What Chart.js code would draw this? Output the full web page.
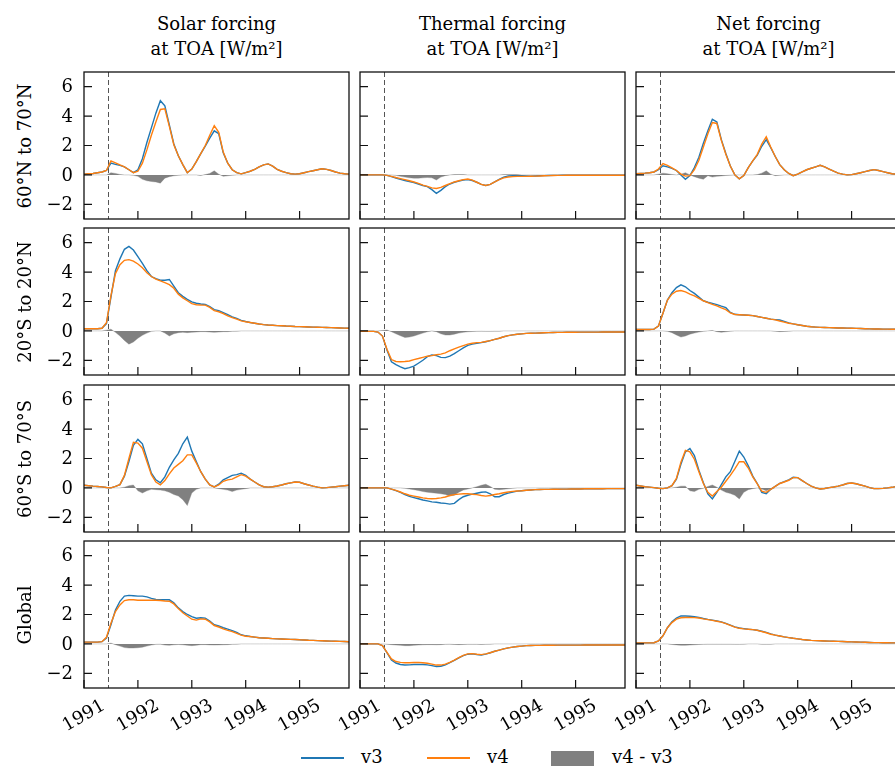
<!DOCTYPE html>
<html><head><meta charset="utf-8">
<script src="https://cdn.jsdelivr.net/npm/chart.js@4.4.1/dist/chart.umd.min.js"></script>
<style>
html,body{margin:0;padding:0;background:#fff;overflow:hidden;width:895px;height:768px;}
body{position:relative;font-family:"DejaVu Serif",serif;color:#000;}
canvas{position:absolute;}
.title{position:absolute;text-align:center;font-size:18px;line-height:25px;width:320px;top:11px;white-space:nowrap;}
.rowlab{position:absolute;font-size:18px;white-space:nowrap;transform:translate(-50%,-50%) rotate(-90deg);}
.lg{position:absolute;}
.lgt{position:absolute;font-size:18px;line-height:20px;top:747px;}
</style></head>
<body>
<script>
const X_START = 1991;
const X_TICKS = [1991, 1992, 1993, 1994, 1995];
const Y_TICKS = [-2, 0, 2, 4, 6];
const Y_MIN = -3, Y_MAX = 7;
const ERUPTION = 1991.45;
const COLUMN_TITLES = [["Solar forcing","at TOA [W/m²]"],["Thermal forcing","at TOA [W/m²]"],["Net forcing","at TOA [W/m²]"]];
const ROW_LABELS = ["60°N to 70°N","20°S to 20°N","60°S to 70°S","Global"];
const SERIES_NAMES = ["v3","v4","v4 - v3"];

const SOLAR_60N_V3=[0.05,0.08,0.1,0.15,0.2,0.3,0.8,0.72,0.65,0.55,0.35,0.15,0.35,1.1,2.2,3.2,4.2,5.05,4.7,3.4,2.1,1.3,0.7,0.15,0.4,0.9,1.45,1.95,2.5,3.0,2.8,1.5,0.8,0.35,0.15,0.07,0.15,0.25,0.38,0.55,0.68,0.75,0.6,0.38,0.25,0.15,0.08,0.05,0.08,0.15,0.22,0.28,0.35,0.42,0.38,0.3,0.2,0.12,0.08,0.05];
const SOLAR_60N_V4=[0.05,0.08,0.1,0.15,0.2,0.3,0.95,0.82,0.68,0.55,0.35,0.15,0.25,0.8,1.7,2.7,3.6,4.45,4.5,3.3,2.05,1.3,0.7,0.15,0.4,0.9,1.45,2.0,2.7,3.35,2.9,1.55,0.8,0.35,0.15,0.07,0.15,0.25,0.38,0.55,0.68,0.75,0.6,0.38,0.25,0.15,0.08,0.05,0.08,0.15,0.22,0.28,0.35,0.42,0.38,0.3,0.2,0.12,0.08,0.05];
const SOLAR_60N_DIFF=[0,0,0,0,0,0,0.15,0.1,0.03,0,0,-0.03,-0.1,-0.3,-0.4,-0.45,-0.48,-0.56,-0.22,-0.12,-0.06,-0.03,0,0,0,0,-0.04,0.02,0.1,0.28,0.05,-0.1,-0.06,-0.02,0,0,0,0,0,0,0,0,0,0,0,0,0,0,0,0,0,0,0,0,0,0,0,0,0,0];

const SOLAR_EQ_V3=[0.15,0.15,0.15,0.15,0.18,0.5,2.3,4.1,4.9,5.55,5.75,5.5,5.05,4.6,4.1,3.7,3.55,3.45,3.45,3.5,3.05,2.6,2.35,2.15,1.98,1.88,1.83,1.8,1.65,1.45,1.38,1.25,1.1,0.95,0.85,0.72,0.64,0.57,0.52,0.47,0.43,0.4,0.38,0.36,0.35,0.33,0.32,0.3,0.29,0.28,0.27,0.26,0.25,0.24,0.23,0.22,0.21,0.2,0.19,0.18];
const SOLAR_EQ_V4=[0.15,0.15,0.15,0.15,0.18,0.55,2.4,3.9,4.5,4.8,4.85,4.75,4.55,4.3,3.95,3.7,3.52,3.4,3.28,3.15,2.9,2.5,2.25,2.05,1.85,1.78,1.76,1.75,1.6,1.38,1.3,1.18,1.02,0.9,0.8,0.68,0.62,0.57,0.52,0.47,0.43,0.4,0.38,0.36,0.35,0.33,0.32,0.3,0.29,0.28,0.27,0.26,0.25,0.24,0.23,0.22,0.21,0.2,0.19,0.18];
const SOLAR_EQ_DIFF=[0,0,0,0,0,0.05,0.12,-0.1,-0.35,-0.65,-0.9,-0.75,-0.5,-0.3,-0.15,-0.03,0,0,-0.15,-0.35,-0.2,-0.12,-0.1,-0.12,-0.1,-0.08,-0.05,-0.05,-0.08,-0.1,-0.08,-0.05,-0.05,-0.03,-0.02,0,0,0,0,0,0,0,0,0,0,0,0,0,0,0,0,0,0,0,0,0,0,0,0,0];

const SOLAR_60S_V3=[0.18,0.15,0.12,0.1,0.07,0.03,0.0,0.1,0.22,0.8,1.8,2.9,3.3,3.0,2.0,1.0,0.55,0.35,0.75,1.4,1.9,2.35,3.0,3.45,2.5,1.8,1.1,0.6,0.2,0.07,0.25,0.55,0.7,0.85,0.9,1.0,0.85,0.6,0.4,0.2,0.08,0.05,0.08,0.13,0.2,0.28,0.34,0.4,0.38,0.28,0.2,0.12,0.05,0.0,0.02,0.05,0.08,0.12,0.15,0.18];
const SOLAR_60S_V4=[0.18,0.15,0.12,0.1,0.07,0.03,0.0,0.1,0.22,0.85,2.0,3.1,3.05,2.7,1.8,0.9,0.4,0.2,0.5,0.95,1.35,1.6,1.85,2.25,2.25,1.7,1.1,0.6,0.2,0.07,0.2,0.45,0.55,0.6,0.75,0.9,0.8,0.6,0.4,0.2,0.08,0.05,0.08,0.13,0.2,0.28,0.34,0.4,0.38,0.28,0.2,0.12,0.05,0.0,0.02,0.05,0.08,0.12,0.15,0.18];
const SOLAR_60S_DIFF=[0,0,0,0,0,0,0,0,0,0.05,0.15,0.2,-0.2,-0.35,-0.2,-0.1,-0.12,-0.15,-0.2,-0.3,-0.45,-0.55,-0.8,-1.2,-0.35,-0.1,0,0,0,0,-0.05,-0.1,-0.15,-0.25,-0.15,-0.1,-0.05,0,0,0,0,0,0,0,0,0,0,0,0,0,0,0,0,0,0,0,0,0,0,0];

const SOLAR_GL_V3=[0.12,0.12,0.12,0.12,0.15,0.4,1.3,2.3,2.9,3.25,3.3,3.28,3.25,3.25,3.2,3.1,3.02,3.0,3.0,3.0,2.8,2.45,2.2,2.0,1.85,1.75,1.78,1.75,1.55,1.3,1.22,1.1,1.0,0.9,0.78,0.62,0.55,0.5,0.46,0.42,0.4,0.38,0.36,0.34,0.33,0.32,0.31,0.3,0.28,0.27,0.25,0.24,0.22,0.21,0.2,0.19,0.18,0.17,0.16,0.15];
const SOLAR_GL_V4=[0.12,0.12,0.12,0.12,0.15,0.45,1.4,2.2,2.65,2.95,3.0,3.0,2.97,2.97,2.97,2.97,2.97,2.95,2.92,2.9,2.72,2.4,2.12,1.9,1.68,1.62,1.7,1.68,1.5,1.25,1.15,1.02,0.92,0.83,0.72,0.6,0.52,0.5,0.46,0.42,0.4,0.38,0.36,0.34,0.33,0.32,0.31,0.3,0.28,0.27,0.25,0.24,0.22,0.21,0.2,0.19,0.18,0.17,0.16,0.15];
const SOLAR_GL_DIFF=[0,0,0,0,0,0,0.05,-0.05,-0.15,-0.25,-0.28,-0.28,-0.26,-0.22,-0.15,-0.08,-0.03,-0.02,-0.08,-0.1,-0.06,-0.04,-0.06,-0.1,-0.12,-0.1,-0.05,-0.05,-0.07,-0.08,-0.07,-0.06,-0.05,-0.03,-0.02,0,0,0,0,0,0,0,0,0,0,0,0,0,0,0,0,0,0,0,0,0,0,0,0,0];

const THERM_60N_V3=[0,0,0,0,0,0,-0.03,-0.12,-0.22,-0.3,-0.38,-0.45,-0.52,-0.62,-0.72,-0.8,-1.0,-1.25,-1.05,-0.8,-0.62,-0.5,-0.42,-0.35,-0.32,-0.38,-0.5,-0.65,-0.72,-0.65,-0.48,-0.3,-0.15,-0.07,-0.05,-0.05,-0.06,-0.07,-0.08,-0.07,-0.06,-0.05,-0.04,-0.03,-0.03,-0.02,-0.02,-0.02,-0.02,-0.02,-0.02,-0.02,-0.02,-0.02,-0.02,-0.02,-0.02,-0.02,-0.02,-0.02];
const THERM_60N_V4=[0,0,0,0,0,0,-0.03,-0.1,-0.18,-0.25,-0.32,-0.4,-0.48,-0.58,-0.7,-0.78,-0.88,-0.92,-0.85,-0.72,-0.6,-0.48,-0.4,-0.32,-0.28,-0.36,-0.5,-0.65,-0.72,-0.65,-0.48,-0.32,-0.2,-0.14,-0.12,-0.1,-0.1,-0.1,-0.09,-0.08,-0.07,-0.06,-0.05,-0.04,-0.03,-0.03,-0.02,-0.02,-0.02,-0.02,-0.02,-0.02,-0.02,-0.02,-0.02,-0.02,-0.02,-0.02,-0.02,-0.02];
const THERM_60N_DIFF=[0,0,0,0,0,0,0,0,-0.03,-0.1,-0.15,-0.2,-0.22,-0.22,-0.2,-0.18,-0.2,-0.35,-0.15,-0.05,0,0.02,0.03,0.02,0,0,0,0,0,0,0,0,0.02,0.03,0.03,0.02,0,0,0,0,0,0,0,0,0,0,0,0,0,0,0,0,0,0,0,0,0,0,0,0];

const THERM_EQ_V3=[-0.03,-0.03,-0.03,-0.03,-0.08,-0.35,-1.3,-2.1,-2.3,-2.45,-2.57,-2.5,-2.4,-2.2,-2.0,-1.75,-1.63,-1.68,-1.8,-1.82,-1.72,-1.55,-1.35,-1.15,-0.98,-0.9,-0.85,-0.8,-0.74,-0.66,-0.58,-0.5,-0.4,-0.32,-0.27,-0.23,-0.2,-0.17,-0.16,-0.15,-0.14,-0.13,-0.12,-0.11,-0.1,-0.1,-0.09,-0.09,-0.09,-0.08,-0.08,-0.08,-0.08,-0.08,-0.07,-0.07,-0.07,-0.07,-0.07,-0.07];
const THERM_EQ_V4=[-0.03,-0.03,-0.03,-0.03,-0.08,-0.35,-1.25,-1.95,-2.08,-2.1,-2.08,-2.05,-1.95,-1.88,-1.8,-1.72,-1.68,-1.62,-1.58,-1.5,-1.35,-1.22,-1.1,-1.0,-0.9,-0.84,-0.8,-0.78,-0.72,-0.66,-0.58,-0.5,-0.4,-0.32,-0.27,-0.23,-0.2,-0.17,-0.16,-0.15,-0.14,-0.13,-0.12,-0.11,-0.1,-0.1,-0.09,-0.09,-0.09,-0.08,-0.08,-0.08,-0.08,-0.08,-0.07,-0.07,-0.07,-0.07,-0.07,-0.07];
const THERM_EQ_DIFF=[0,0,0,0,0,0.03,0.06,-0.05,-0.2,-0.33,-0.45,-0.42,-0.35,-0.25,-0.15,-0.06,0,-0.05,-0.2,-0.28,-0.28,-0.22,-0.15,-0.1,-0.06,-0.04,-0.03,-0.02,-0.03,-0.03,-0.02,-0.02,0,0,0,0,0,0,0,0,0,0,0,0,0,0,0,0,0,0,0,0,0,0,0,0,0,0,0,0];

const THERM_60S_V3=[0,0,0,0,0,0,0,-0.08,-0.18,-0.3,-0.45,-0.58,-0.66,-0.74,-0.82,-0.88,-0.95,-0.98,-1.03,-1.05,-1.1,-1.05,-0.8,-0.6,-0.5,-0.42,-0.36,-0.3,-0.27,-0.4,-0.6,-0.6,-0.45,-0.36,-0.28,-0.22,-0.19,-0.16,-0.14,-0.12,-0.11,-0.1,-0.1,-0.09,-0.09,-0.08,-0.08,-0.07,-0.07,-0.07,-0.06,-0.06,-0.06,-0.06,-0.06,-0.05,-0.05,-0.05,-0.05,-0.05];
const THERM_60S_V4=[0,0,0,0,0,0,0,-0.08,-0.17,-0.28,-0.4,-0.5,-0.56,-0.62,-0.68,-0.72,-0.74,-0.72,-0.68,-0.62,-0.52,-0.46,-0.42,-0.4,-0.4,-0.43,-0.46,-0.52,-0.56,-0.52,-0.45,-0.4,-0.33,-0.28,-0.24,-0.21,-0.19,-0.16,-0.14,-0.12,-0.11,-0.1,-0.1,-0.09,-0.09,-0.08,-0.08,-0.07,-0.07,-0.07,-0.06,-0.06,-0.06,-0.06,-0.06,-0.05,-0.05,-0.05,-0.05,-0.05];
const THERM_60S_DIFF=[0,0,0,0,0,0,0,0,0,0,-0.03,-0.08,-0.12,-0.18,-0.25,-0.3,-0.33,-0.36,-0.4,-0.45,-0.55,-0.5,-0.3,-0.15,-0.08,0,0.08,0.18,0.25,0.1,-0.1,-0.12,-0.1,-0.06,-0.03,0,0,0,0,0,0,0,0,0,0,0,0,0,0,0,0,0,0,0,0,0,0,0,0,0];

const THERM_GL_V3=[0,0,0,0,0,-0.12,-0.6,-1.1,-1.3,-1.4,-1.44,-1.43,-1.4,-1.39,-1.4,-1.43,-1.48,-1.54,-1.52,-1.42,-1.28,-1.12,-0.95,-0.8,-0.7,-0.68,-0.72,-0.75,-0.7,-0.6,-0.5,-0.42,-0.34,-0.27,-0.22,-0.18,-0.15,-0.12,-0.11,-0.1,-0.1,-0.09,-0.09,-0.09,-0.08,-0.08,-0.08,-0.08,-0.08,-0.08,-0.07,-0.07,-0.07,-0.07,-0.07,-0.07,-0.07,-0.07,-0.07,-0.07];
const THERM_GL_V4=[0,0,0,0,0,-0.12,-0.58,-1.02,-1.2,-1.26,-1.28,-1.28,-1.27,-1.26,-1.28,-1.32,-1.38,-1.44,-1.44,-1.38,-1.25,-1.1,-0.94,-0.78,-0.68,-0.66,-0.7,-0.73,-0.68,-0.6,-0.5,-0.42,-0.34,-0.27,-0.22,-0.18,-0.15,-0.12,-0.11,-0.1,-0.1,-0.09,-0.09,-0.09,-0.08,-0.08,-0.08,-0.08,-0.08,-0.08,-0.07,-0.07,-0.07,-0.07,-0.07,-0.07,-0.07,-0.07,-0.07,-0.07];
const THERM_GL_DIFF=[0,0,0,0,0,0,-0.02,-0.05,-0.08,-0.1,-0.12,-0.12,-0.1,-0.08,-0.06,-0.05,-0.05,-0.06,-0.05,-0.03,-0.02,-0.04,-0.05,-0.04,-0.03,-0.03,-0.03,-0.04,-0.03,-0.02,0,0,0,0,0,0,0,0,0,0,0,0,0,0,0,0,0,0,0,0,0,0,0,0,0,0,0,0,0,0];

const NET_60N_V3=[0.08,0.1,0.12,0.15,0.2,0.35,0.62,0.55,0.45,0.3,0.0,-0.3,-0.05,0.5,1.2,2.15,3.0,3.78,3.6,2.4,1.45,0.6,0.0,-0.27,-0.05,0.5,0.95,1.35,1.95,2.4,1.85,1.25,0.7,0.35,0.1,-0.05,0.05,0.2,0.35,0.45,0.55,0.65,0.55,0.4,0.25,0.12,0.05,0.0,0.02,0.08,0.15,0.22,0.3,0.36,0.3,0.22,0.15,0.08,0.04,0.03];
const NET_60N_V4=[0.08,0.1,0.12,0.15,0.2,0.4,0.77,0.65,0.48,0.3,0.05,-0.08,-0.05,0.35,1.0,1.9,2.8,3.56,3.5,2.35,1.4,0.6,0.0,-0.27,-0.05,0.5,0.95,1.4,2.1,2.6,1.9,1.25,0.7,0.35,0.1,-0.05,0.05,0.2,0.35,0.45,0.55,0.65,0.55,0.4,0.25,0.12,0.05,0.0,0.02,0.08,0.15,0.22,0.3,0.36,0.3,0.22,0.15,0.08,0.04,0.03];
const NET_60N_DIFF=[0,0,0,0,0,0.05,0.12,0.08,0.03,0,0.05,0.15,0,-0.12,-0.22,-0.3,-0.05,-0.15,-0.1,-0.07,-0.04,-0.02,0,0,0,0,0,0.02,0.12,0.28,0.05,-0.05,-0.03,0,0,0,0,0,0,0,0,0,0,0,0,0,0,0,0,0,0,0,0,0,0,0,0,0,0,0];

const NET_EQ_V3=[0.1,0.1,0.1,0.1,0.12,0.33,1.2,2.1,2.6,2.95,3.13,3.0,2.75,2.55,2.3,2.05,1.95,1.87,1.79,1.68,1.58,1.25,1.13,1.1,1.08,1.06,1.04,0.98,0.92,0.86,0.8,0.77,0.74,0.65,0.55,0.48,0.42,0.37,0.32,0.28,0.26,0.24,0.23,0.22,0.21,0.2,0.2,0.19,0.18,0.17,0.16,0.15,0.14,0.13,0.13,0.12,0.12,0.11,0.11,0.1];
const NET_EQ_V4=[0.1,0.1,0.1,0.1,0.12,0.33,1.2,2.1,2.5,2.7,2.75,2.65,2.5,2.38,2.22,2.05,1.92,1.8,1.7,1.56,1.45,1.22,1.12,1.1,1.08,1.06,1.04,0.98,0.92,0.86,0.8,0.75,0.67,0.6,0.52,0.48,0.42,0.37,0.32,0.28,0.26,0.24,0.23,0.22,0.21,0.2,0.2,0.19,0.18,0.17,0.16,0.15,0.14,0.13,0.13,0.12,0.12,0.11,0.11,0.1];
const NET_EQ_DIFF=[0,0,0,0,0,0,0,-0.03,-0.12,-0.28,-0.42,-0.35,-0.22,-0.15,-0.08,-0.03,0,0.03,-0.05,-0.1,-0.06,-0.02,0,0,0,0,0,0,0,0,0,-0.03,-0.05,-0.04,-0.02,0,0,0,0,0,0,0,0,0,0,0,0,0,0,0,0,0,0,0,0,0,0,0,0,0];

const NET_60S_V3=[0.18,0.13,0.08,0.05,0.02,-0.02,-0.05,0.0,0.15,0.6,1.6,2.45,2.68,2.2,1.2,0.35,-0.4,-0.75,-0.3,0.22,0.75,1.1,1.8,2.5,2.1,1.5,0.8,0.3,-0.3,-0.4,-0.1,0.11,0.3,0.42,0.55,0.72,0.7,0.5,0.3,0.12,0.0,-0.07,-0.04,0.02,0.06,0.12,0.2,0.3,0.33,0.28,0.2,0.12,0.02,-0.05,-0.05,-0.03,0.0,0.04,0.1,0.13];
const NET_60S_V4=[0.18,0.13,0.08,0.05,0.02,-0.02,-0.05,0.0,0.15,0.65,1.75,2.55,2.45,1.95,1.1,0.3,-0.3,-0.55,-0.25,0.05,0.45,0.85,1.3,1.78,1.78,1.35,0.75,0.28,-0.22,-0.3,-0.1,0.1,0.3,0.4,0.52,0.7,0.7,0.5,0.3,0.12,0.0,-0.07,-0.04,0.02,0.06,0.12,0.2,0.3,0.33,0.28,0.2,0.12,0.02,-0.05,-0.05,-0.03,0.0,0.04,0.1,0.13];
const NET_60S_DIFF=[0,0,0,0,0,0,0,0,0,0.05,0.12,0.12,-0.2,-0.25,-0.1,-0.03,0.1,0.2,0.05,-0.15,-0.3,-0.38,-0.5,-0.75,-0.3,-0.12,-0.05,0,-0.08,-0.2,-0.05,0,0,0,0,0,0,0,0,0,0,0,0,0,0,0,0,0,0,0,0,0,0,0,0,0,0,0,0,0];

const NET_GL_V3=[0.07,0.07,0.07,0.07,0.08,0.2,0.55,1.1,1.5,1.75,1.9,1.9,1.88,1.85,1.8,1.73,1.67,1.62,1.56,1.5,1.4,1.28,1.16,1.08,1.04,1.0,0.97,0.93,0.86,0.78,0.68,0.6,0.54,0.48,0.43,0.38,0.34,0.3,0.27,0.24,0.22,0.21,0.2,0.19,0.18,0.17,0.16,0.15,0.14,0.13,0.12,0.11,0.1,0.09,0.09,0.08,0.08,0.07,0.07,0.07];
const NET_GL_V4=[0.07,0.07,0.07,0.07,0.08,0.2,0.55,1.1,1.45,1.68,1.78,1.8,1.8,1.79,1.76,1.7,1.65,1.6,1.54,1.48,1.38,1.26,1.14,1.06,1.02,1.0,0.97,0.93,0.84,0.76,0.66,0.6,0.54,0.48,0.43,0.38,0.34,0.3,0.27,0.24,0.22,0.21,0.2,0.19,0.18,0.17,0.16,0.15,0.14,0.13,0.12,0.11,0.1,0.09,0.09,0.08,0.08,0.07,0.07,0.07];
const NET_GL_DIFF=[0,0,0,0,0,0,0,0,-0.04,-0.07,-0.1,-0.1,-0.08,-0.06,-0.04,-0.03,-0.02,-0.02,-0.02,-0.02,-0.02,-0.02,-0.03,-0.03,-0.02,0,0,0,-0.03,-0.03,-0.03,0,0,0,0,0,0,0,0,0,0,0,0,0,0,0,0,0,0,0,0,0,0,0,0,0,0,0,0,0];

const PANELS = [
  [[SOLAR_60N_V3,SOLAR_60N_V4,SOLAR_60N_DIFF],[THERM_60N_V3,THERM_60N_V4,THERM_60N_DIFF],[NET_60N_V3,NET_60N_V4,NET_60N_DIFF]],
  [[SOLAR_EQ_V3,SOLAR_EQ_V4,SOLAR_EQ_DIFF],[THERM_EQ_V3,THERM_EQ_V4,THERM_EQ_DIFF],[NET_EQ_V3,NET_EQ_V4,NET_EQ_DIFF]],
  [[SOLAR_60S_V3,SOLAR_60S_V4,SOLAR_60S_DIFF],[THERM_60S_V3,THERM_60S_V4,THERM_60S_DIFF],[NET_60S_V3,NET_60S_V4,NET_60S_DIFF]],
  [[SOLAR_GL_V3,SOLAR_GL_V4,SOLAR_GL_DIFF],[THERM_GL_V3,THERM_GL_V4,THERM_GL_DIFF],[NET_GL_V3,NET_GL_V4,NET_GL_DIFF]]
];

// layout
const PL = [84, 360, 636], PW = 265;
const PT = [72, 228, 385, 541], PH = 147;
const ML = 45, MT = 4, MR = 4, MB = 48;
const BLUE = '#1f77b4', ORANGE = '#ff7f0e', GREY = '#808080';
const FONT = '18px "DejaVu Serif"';

const toPts = arr => arr.map((v, i) => ({x: X_START + i / 12, y: v}));
const X_MAX = X_START + (SOLAR_60N_V3.length - 1) / 12;

const framePlugin = {
  id: 'frame',
  beforeDatasetsDraw(chart) {
    const {ctx, chartArea: a, scales: {x}} = chart;
    const px = Math.round(x.getPixelForValue(ERUPTION)) + 0.5;
    ctx.save();
    ctx.strokeStyle = '#555'; ctx.lineWidth = 1; ctx.setLineDash([5, 3]);
    ctx.beginPath(); ctx.moveTo(px, a.top); ctx.lineTo(px, a.bottom); ctx.stroke();
    ctx.restore();
  },
  afterDraw(chart) {
    const {ctx, chartArea: a, scales: {x, y}} = chart;
    const o = chart.options.plugins.frame;
    ctx.save();
    ctx.strokeStyle = '#111'; ctx.lineWidth = 1.3;
    ctx.strokeRect(a.left, a.top, a.right - a.left, a.bottom - a.top);
    ctx.lineWidth = 1.2;
    ctx.beginPath();
    Y_TICKS.forEach(v => { const py = y.getPixelForValue(v); ctx.moveTo(a.left, py); ctx.lineTo(a.left + 8, py); });
    X_TICKS.forEach(v => { const px = x.getPixelForValue(v); ctx.moveTo(px, a.bottom); ctx.lineTo(px, a.bottom - 8); });
    ctx.stroke();
    ctx.fillStyle = '#000'; ctx.font = FONT;
    if (o.col === 0) {
      ctx.textAlign = 'right'; ctx.textBaseline = 'middle';
      Y_TICKS.forEach(v => ctx.fillText(String(v).replace('-', '\u2212'), a.left - 11, y.getPixelForValue(v) + 1));
    }
    if (o.row === 3) {
      ctx.textAlign = 'center'; ctx.textBaseline = 'middle';
      X_TICKS.forEach(v => {
        ctx.save();
        ctx.translate(x.getPixelForValue(v), a.bottom + 28);
        ctx.rotate(-Math.PI / 6);
        ctx.fillText(String(v), 0, 0);
        ctx.restore();
      });
    }
    ctx.restore();
  }
};

for (let r = 0; r < 4; r++) {
  for (let c = 0; c < 3; c++) {
    const [v3, v4, diff] = PANELS[r][c];
    const cv = document.createElement('canvas');
    cv.width = ML + PW + MR; cv.height = MT + PH + MB;
    cv.style.left = (PL[c] - ML) + 'px'; cv.style.top = (PT[r] - MT) + 'px';
    document.body.appendChild(cv);
    new Chart(cv, {
      type: 'line',
      data: { datasets: [
        {label: SERIES_NAMES[1], data: toPts(v4), borderColor: ORANGE, borderWidth: 1.4, pointRadius: 0, fill: false, order: 0},
        {label: SERIES_NAMES[0], data: toPts(v3), borderColor: BLUE, borderWidth: 1.4, pointRadius: 0, fill: false, order: 1},
        {label: SERIES_NAMES[2], data: toPts(diff), borderColor: 'rgba(128,128,128,0.35)', borderWidth: 1, backgroundColor: GREY, fill: 'origin', pointRadius: 0, order: 2}
      ]},
      options: {
        responsive: false, animation: false, devicePixelRatio: 1, events: [],
        layout: {padding: {left: ML, top: MT, right: MR, bottom: MB}},
        scales: {
          x: {type: 'linear', display: false, min: X_START, max: X_MAX},
          y: {type: 'linear', display: false, min: Y_MIN, max: Y_MAX}
        },
        plugins: {legend: {display: false}, tooltip: {enabled: false}, frame: {row: r, col: c}}
      },
      plugins: [framePlugin]
    });
  }
}

// column titles
COLUMN_TITLES.forEach((t, c) => {
  const d = document.createElement('div');
  d.className = 'title';
  d.style.left = (PL[c] + PW / 2 - 160) + 'px';
  d.innerHTML = t[0] + '<br>' + t[1];
  document.body.appendChild(d);
});
// row labels
ROW_LABELS.forEach((t, r) => {
  const d = document.createElement('div');
  d.className = 'rowlab';
  d.style.left = '24px';
  d.style.top = (PT[r] + PH / 2) + 'px';
  d.textContent = t;
  document.body.appendChild(d);
});
// legend
function box(x, y, w, h, col) {
  const d = document.createElement('div');
  d.className = 'lg';
  Object.assign(d.style, {left: x + 'px', top: y + 'px', width: w + 'px', height: h + 'px', background: col});
  document.body.appendChild(d);
}
function txt(x, s) {
  const d = document.createElement('div');
  d.className = 'lgt'; d.style.left = x + 'px'; d.textContent = s;
  document.body.appendChild(d);
}
box(301, 757, 43, 1.5, BLUE); txt(361, SERIES_NAMES[0]);
box(427, 757, 43, 1.5, ORANGE); txt(487, SERIES_NAMES[1]);
box(551, 751, 43, 15, GREY); txt(612, SERIES_NAMES[2]);
</script>
</body></html>
